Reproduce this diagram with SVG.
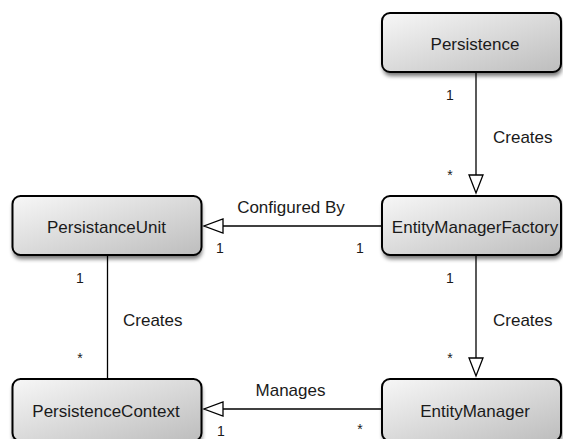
<svg xmlns="http://www.w3.org/2000/svg" width="563" height="439" viewBox="0 0 563 439">
  <style>
    .box { fill: url(#boxFill); stroke: #000; stroke-width: 2; }
    .shadow { fill: #000; opacity: 0.55; filter: url(#soft); }
    .label { font-family: "Liberation Sans", Arial, Helvetica, sans-serif; font-size: 17px; fill: #1a1a1a; text-anchor: middle; }
    .edge { font-family: "Liberation Sans", Arial, Helvetica, sans-serif; font-size: 17px; fill: #1a1a1a; }
    .mult { font-family: "Liberation Sans", Arial, Helvetica, sans-serif; font-size: 14px; fill: #1a1a1a; text-anchor: middle; }
    .line { stroke: #000; stroke-width: 1.3; fill: none; }
    .head { fill: #fff; stroke: #000; stroke-width: 1.3; }
  </style>
  <defs>
    <linearGradient id="boxFill" x1="0" y1="0" x2="1" y2="1">
      <stop offset="0" stop-color="#f7f7f7"/>
      <stop offset="1" stop-color="#bdbdbd"/>
    </linearGradient>
    <filter id="soft" x="-10%" y="-20%" width="120%" height="160%">
      <feGaussianBlur stdDeviation="2"/>
    </filter>
  </defs>
  <rect width="563" height="439" fill="#fff"/>

  <!-- connectors -->
  <g id="connectors">
    <!-- Persistence creates EntityManagerFactory -->
    <line class="line" x1="476" y1="73" x2="476" y2="175"/>
    <polygon class="head" points="469,175 483,175 476,193"/>
    <text class="mult" x="450" y="100">1</text>
    <text class="edge" x="493" y="143">Creates</text>
    <text class="mult" x="450" y="180">*</text>

    <!-- EntityManagerFactory configured by PersistanceUnit -->
    <line class="line" x1="382" y1="226" x2="223" y2="226"/>
    <polygon class="head" points="223,219 223,233 204,226"/>
    <text class="edge" x="291" y="213" text-anchor="middle">Configured By</text>
    <text class="mult" x="220" y="253">1</text>
    <text class="mult" x="360" y="253">1</text>

    <!-- EntityManagerFactory creates EntityManager -->
    <line class="line" x1="476" y1="256" x2="476" y2="358"/>
    <polygon class="head" points="469,358 483,358 476,376"/>
    <text class="mult" x="450" y="283">1</text>
    <text class="edge" x="493" y="326">Creates</text>
    <text class="mult" x="450" y="363">*</text>

    <!-- PersistanceUnit creates PersistenceContext -->
    <line class="line" x1="107.5" y1="256" x2="107.5" y2="379"/>
    <text class="mult" x="80" y="283">1</text>
    <text class="edge" x="123" y="326">Creates</text>
    <text class="mult" x="80" y="363">*</text>

    <!-- EntityManager manages PersistenceContext -->
    <line class="line" x1="382" y1="409" x2="223" y2="409"/>
    <polygon class="head" points="223,402 223,416 204,409"/>
    <text class="edge" x="290.5" y="396" text-anchor="middle">Manages</text>
    <text class="mult" x="221" y="436">1</text>
    <text class="mult" x="360" y="434">*</text>
  </g>

  <!-- nodes -->
  <g id="persistence">
    <rect class="shadow" x="383" y="17" width="179" height="59" rx="8"/>
    <rect class="box" x="382" y="13" width="179" height="59" rx="8"/>
    <text class="label" x="475" y="49.5">Persistence</text>
  </g>

  <g id="persistance-unit">
    <rect class="shadow" x="13" y="200" width="189" height="59" rx="8"/>
    <rect class="box" x="12.5" y="196" width="189" height="59" rx="8"/>
    <text class="label" x="106.5" y="233">PersistanceUnit</text>
  </g>

  <g id="entity-manager-factory">
    <rect class="shadow" x="383" y="200" width="179" height="59" rx="8"/>
    <rect class="box" x="382" y="196" width="179" height="59" rx="8"/>
    <text class="label" x="475" y="233">EntityManagerFactory</text>
  </g>

  <g id="persistence-context">
    <rect class="shadow" x="13" y="383" width="189" height="62" rx="8"/>
    <rect class="box" x="12.5" y="379" width="189" height="62" rx="8"/>
    <text class="label" x="106" y="416.5">PersistenceContext</text>
  </g>

  <g id="entity-manager">
    <rect class="shadow" x="383" y="383" width="179" height="62" rx="8"/>
    <rect class="box" x="382" y="379" width="179" height="62" rx="8"/>
    <text class="label" x="475" y="416.5">EntityManager</text>
  </g>
</svg>
